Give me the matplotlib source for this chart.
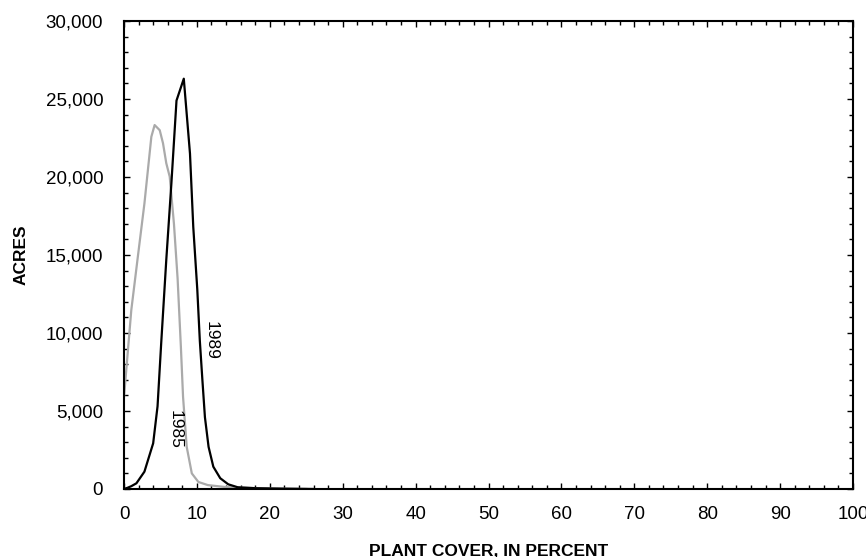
import numpy as np
import matplotlib
matplotlib.use("Agg")
import matplotlib.pyplot as plt
from matplotlib.ticker import MultipleLocator, FuncFormatter

plt.rcParams['font.family'] = ['Liberation Sans', 'DejaVu Sans']

# 1989 survey (black)
cover_1989 = [0, 0.5, 1.0, 1.7, 2.8, 4.0, 4.6, 5.1, 5.8, 6.5, 7.2, 8.2, 9.05,
              9.5, 10.05, 10.4, 10.75, 11.1, 11.6, 12.25, 13.2, 14.3, 15.6,
              18, 22, 26]
acres_1989 = [0, 80, 180, 365, 1110, 2930, 5300, 9340, 14700, 19600, 24900,
              26300, 21500, 16800, 12800, 9500, 7000, 4600, 2700, 1430, 690,
              300, 110, 50, 20, 0]

# 1985 survey (gray)
cover_1985 = [0, 1.0, 1.9, 2.8, 3.75, 4.2, 4.9, 5.35, 5.8, 6.27, 6.85, 7.35,
              7.8, 8.1, 8.6, 9.3, 10.2, 11.5, 14, 20, 25]
acres_1985 = [5900, 11470, 14900, 18300, 22580, 23330, 23000, 22160, 20880,
              20020, 17000, 13500, 9120, 5900, 2700, 1000, 450, 250, 120,
              30, 0]

fig = plt.figure(figsize=(8.66, 5.57), dpi=100)
ax = fig.add_axes([0.1432, 0.1221, 0.8418, 0.8402])

ax.plot(cover_1985, acres_1985, color='#aaaaaa', lw=1.6)
ax.plot(cover_1989, acres_1989, color='black', lw=1.6)

ax.text(12.0, 9500, '1989', rotation=270, ha='center', va='center', fontsize=12.5)
ax.text(7.0, 3830, '1985', rotation=270, ha='center', va='center', fontsize=12.5)

ax.set_xlim(0, 100)
ax.set_ylim(0, 30000)
ax.xaxis.set_major_locator(MultipleLocator(10))
ax.xaxis.set_minor_locator(MultipleLocator(2))
ax.yaxis.set_major_locator(MultipleLocator(5000))
ax.yaxis.set_minor_locator(MultipleLocator(1000))
ax.yaxis.set_major_formatter(FuncFormatter(lambda v, p: f'{int(v):,}'))

ax.tick_params(which='both', direction='in', top=True, right=True,
               labelsize=13.5, width=1.0)
ax.tick_params(which='major', length=4.5)
ax.tick_params(which='minor', length=3)
ax.tick_params(axis='y', which='major', pad=15)
ax.tick_params(axis='x', which='major', pad=12)
for s in ax.spines.values():
    s.set_linewidth(1.5)

ax.set_xlabel('PLANT COVER, IN PERCENT', fontsize=12.5, fontweight='bold', labelpad=15)
ax.set_ylabel('ACRES', fontsize=12.5, fontweight='bold', labelpad=12)

fig.savefig('out.png', dpi=100)
